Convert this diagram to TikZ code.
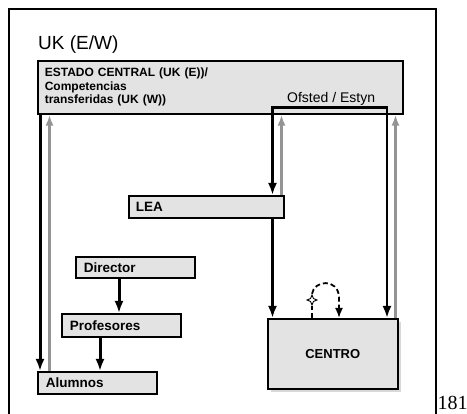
\documentclass[tikz,border=0pt]{standalone}
\usepackage{fontspec}
\setmainfont{Liberation Sans}
\newfontfamily\pagefont{Liberation Serif}
\usetikzlibrary{arrows.meta, positioning, shapes.geometric, shadows}

\definecolor{boxgray}{gray}{0.89}
\definecolor{upgray}{gray}{0.58}
\newcommand{\boxfont}{\fontsize{13.5}{14}\selectfont\bfseries}

\tikzset{
    box/.style={draw, line width=1.6pt, fill=boxgray, anchor=north west,
        inner xsep=8pt, inner ysep=0pt, align=left, font=\boxfont},
    down/.style={line width=3pt, -{Latex[length=12pt,width=9pt]}},
    up/.style={line width=2.5pt, draw=upgray, -{Latex[length=11pt,width=8pt,fill=upgray]}},
    loopline/.style={line width=1.8pt, dash pattern=on 5pt off 3pt},
}

\begin{document}
\begin{tikzpicture}[x=1pt, y=-1pt]
    \useasboundingbox (0,0) rectangle (467,414);
    \def\xA{40} \def\xB{49.5} \def\xC{272.5} \def\xD{281.5} \def\xE{387} \def\xF{395.5}
    % Frame
    \draw[line width=2pt] (9,414) -- (9,9) -- (436,9) -- (436,414);
    \node[anchor=base west, font=\pagefont\fontsize{20}{22}\selectfont, inner sep=0pt] (page) at (437.5,409.5) {181};
    \node[anchor=base west, font=\fontsize{19}{22}\selectfont, inner sep=0pt] (title) at (38,50) {UK (E/W)};
    % Boxes
    \node[box, inner xsep=7pt, text width=351pt, minimum height=53pt,
        font=\fontsize{12}{13.5}\selectfont\bfseries] (estado) at (37,60)
        {ESTADO CENTRAL (UK (E))/\\Competencias\\transferidas (UK (W))};
    \node[anchor=base west, font=\fontsize{14}{16}\selectfont, inner sep=0pt] (ofsted) at (287,103) {Ofsted / Estyn};
    \node[box, inner xsep=7pt, text width=141pt, minimum height=22pt] (lea) at (128,195) {LEA};
    \node[box, text width=103pt, minimum height=21pt] (director) at (75,256) {Director};
    \node[box, text width=103pt, minimum height=23pt] (profesores) at (61,313) {Profesores};
    \node[box, text width=103pt, minimum height=22pt] (alumnos) at (37,371) {Alumnos};
    \node[box, align=center, text width=114pt, minimum height=70pt, font=\fontsize{13}{15}\selectfont\bfseries,
        drop shadow={shadow xshift=3pt, shadow yshift=-3pt, fill=gray!60}] (centro) at (267,318) {CENTRO};
    % Columns
    \foreach \n/\x in {cA/\xA, cB/\xB, cD/\xD, cF/\xF}
        \coordinate (\n) at (\x,0);
    \coordinate (ofl) at (\xC,107.5);
    \coordinate (ofr) at (\xE,107.5);
    % Down (black)
    \draw[down] (estado.south -| cA) -- (alumnos.north -| cA);
    \draw[line width=2.6pt, {Latex[length=12pt,width=9pt]}-{Latex[length=12pt,width=9pt]}]
        (lea.north -| ofl) -- (ofl) -- (ofr) -- (centro.north -| ofr);
    \draw[down] (lea.south -| ofl) -- (centro.north -| ofl);
    \draw[down] (director.south -| 119,0) -- (profesores.north -| 119,0);
    \draw[down] (profesores.south -| 100,0) -- (alumnos.north -| 100,0);
    % Up (gray)
    \draw[up] (alumnos.north -| cB) -- (estado.south -| cB);
    \draw[up] (lea.north -| cD) -- (estado.south -| cD);
    \draw[up] (centro.north -| cF) -- (estado.south -| cF);
    % Self loop
    \node[star, star points=4, star point ratio=2.4, draw, fill=white, line width=0.9pt,
        minimum size=10pt, inner sep=0pt] (spark) at (312,300) {};
    \coordinate (loopend) at (339,0);
    \draw[loopline] (centro.north -| spark) -- (spark.south);
    \draw[loopline, -{Latex[length=10pt,width=8pt]}] (spark.north)
        .. controls (314,280) and (338,278) .. (339,297) -- (centro.north -| loopend);
\end{tikzpicture}
\end{document}
